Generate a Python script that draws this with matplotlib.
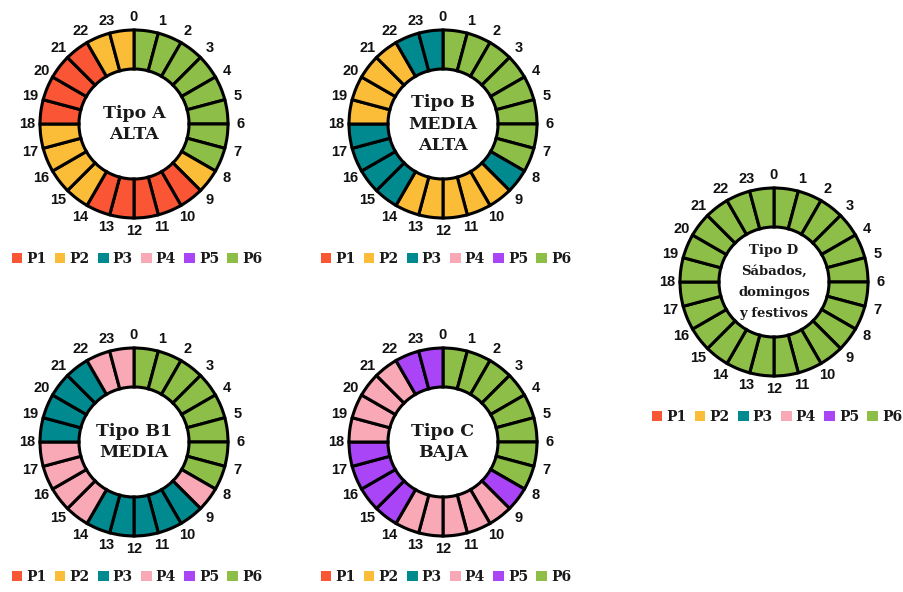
"""Periodos horarios por tipo de día (6 tarifas)."""

import matplotlib

matplotlib.use("Agg")
import matplotlib.pyplot as plt
from matplotlib.patches import Patch
import numpy as np

# --- data -------------------------------------------------------------------
hours = list(range(24))
periods = ["P1", "P2", "P3", "P4", "P5", "P6"]
period_colors = ["#FA5534", "#FBBC38", "#00898F", "#F9A8B6", "#A945F7", "#8DBE47"]

tipo_a = ["P6"] * 8 + ["P2"] + ["P1"] * 5 + ["P2"] * 4 + ["P1"] * 4 + ["P2"] * 2
tipo_b = ["P6"] * 8 + ["P3"] + ["P2"] * 5 + ["P3"] * 4 + ["P2"] * 4 + ["P3"] * 2
tipo_b1 = ["P6"] * 8 + ["P4"] + ["P3"] * 5 + ["P4"] * 4 + ["P3"] * 4 + ["P4"] * 2
tipo_c = ["P6"] * 8 + ["P5"] + ["P4"] * 5 + ["P5"] * 4 + ["P4"] * 4 + ["P5"] * 2
tipo_d = ["P6"] * 24

titles = [
    "Tipo A\nALTA",
    "Tipo B\nMEDIA\nALTA",
    "Tipo B1\nMEDIA",
    "Tipo C\nBAJA",
    "Tipo D\nSábados,\ndomingos\ny festivos",
]
schedules = [tipo_a, tipo_b, tipo_b1, tipo_c, tipo_d]

# --- layout (pixels, top-left origin) ---------------------------------------
W, H = 904, 592
centers = [(134, 124), (443, 124), (134, 442), (443, 442), (774, 282)]
title_sizes = [12.5, 12.5, 12.5, 12.5, 9.5]
title_spacing = [1.3, 1.38, 1.3, 1.3, 1.8]
R_OUT, R_W, R_LAB = 94, 39, 107

color_of = dict(zip(periods, period_colors))
slab = {"family": "DejaVu Serif", "weight": "bold"}

fig = plt.figure(figsize=(W / 100, H / 100), dpi=100)
ax = fig.add_axes([0, 0, 1, 1])

for sched, title, (cx, cy), fs, ls in zip(
    schedules, titles, centers, title_sizes, title_spacing
):
    cy = H - cy
    ax.pie(
        [1] * len(hours),
        colors=[color_of[p] for p in sched],
        startangle=90,
        counterclock=False,
        radius=R_OUT,
        center=(cx, cy),
        wedgeprops=dict(width=R_W, edgecolor="black", linewidth=2.2),
    )
    for h in hours:
        ang = np.deg2rad(90 - h * 360 / len(hours))
        ax.text(
            cx + R_LAB * np.cos(ang),
            cy + R_LAB * np.sin(ang),
            str(h),
            ha="center",
            va="center",
            fontsize=10.5,
            fontweight="bold",
            family="Liberation Sans",
            color="#111111",
        )
    ax.text(cx, cy, title, ha="center", va="center", fontsize=fs,
            linespacing=ls, color="#1a1a1a", **slab)

    handles = [Patch(facecolor=c, edgecolor="none", label=p)
               for p, c in zip(periods, period_colors)]
    fig.legend(
        handles=handles,
        loc="center",
        bbox_to_anchor=((cx + 3) / W, (cy - 135) / H),
        ncol=6,
        frameon=False,
        handlelength=0.75,
        handleheight=0.75,
        handletextpad=0.3,
        columnspacing=0.6,
        borderaxespad=0,
        prop={"family": "DejaVu Serif", "weight": "bold", "size": 10},
        labelcolor="#1a1a1a",
    )

ax.set_xlim(0, W)
ax.set_ylim(0, H)
ax.set_aspect("equal")
ax.axis("off")

fig.savefig("out.png", dpi=100, facecolor="white")
